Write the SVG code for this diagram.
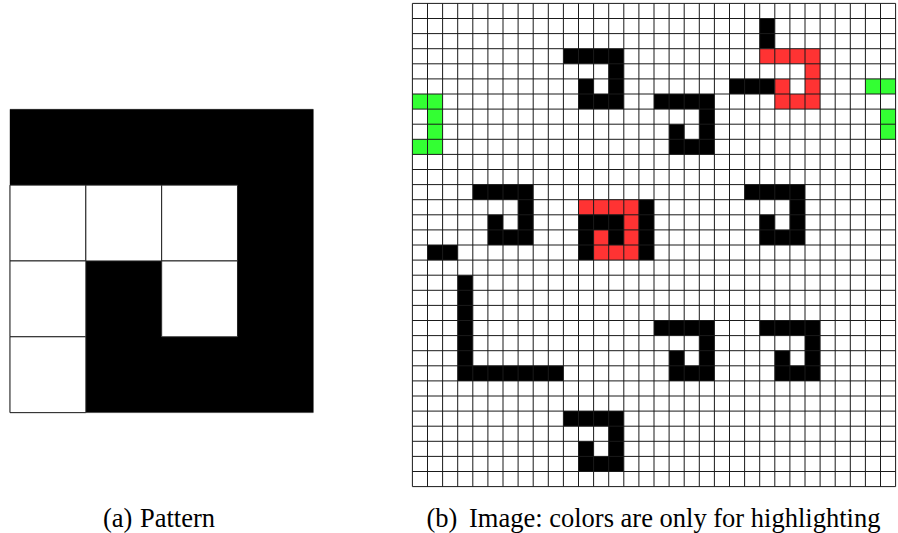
<svg xmlns="http://www.w3.org/2000/svg" xmlns:xlink="http://www.w3.org/1999/xlink" width="898" height="533" viewBox="0 0 898 533">
<style>
.blk{fill:#000}
.red{fill:#ff3333}
.grn{fill:#33ff33}
.grid{fill:none;stroke:#1a1a1a;stroke-width:1}
.cellb{fill:#fff;stroke:#222;stroke-width:1}
text{font-family:'Liberation Serif','Times New Roman',serif;font-size:26.5px;fill:#000}
</style>
<defs>
<path id="pat" d="M0 0H4V4H1V2H2V3H3V1H0Z"/>
</defs>
<rect width="898" height="533" fill="#fff"/>
<g id="pattern" transform="translate(10,109.3) scale(75.83)">
<rect x="0" y="0" width="4" height="4" fill="none" stroke="#999" stroke-width="1" vector-effect="non-scaling-stroke"/>
<use xlink:href="#pat" href="#pat" class="blk"/>
<rect class="cellb" x="0" y="1" width="1" height="1" vector-effect="non-scaling-stroke"/>
<rect class="cellb" x="1" y="1" width="1" height="1" vector-effect="non-scaling-stroke"/>
<rect class="cellb" x="2" y="1" width="1" height="1" vector-effect="non-scaling-stroke"/>
<rect class="cellb" x="0" y="2" width="1" height="1" vector-effect="non-scaling-stroke"/>
<rect class="cellb" x="2" y="2" width="1" height="1" vector-effect="non-scaling-stroke"/>
<rect class="cellb" x="0" y="3" width="1" height="1" vector-effect="non-scaling-stroke"/>
</g>
<g id="image" transform="translate(412.4,3.4) scale(15.1)">
<g id="black-cells" class="blk">
<use xlink:href="#pat" href="#pat" x="10" y="3"/>
<use xlink:href="#pat" href="#pat" x="16" y="6"/>
<use xlink:href="#pat" href="#pat" x="4" y="12"/>
<use xlink:href="#pat" href="#pat" x="22" y="12"/>
<use xlink:href="#pat" href="#pat" x="16" y="21"/>
<use xlink:href="#pat" href="#pat" x="23" y="21"/>
<use xlink:href="#pat" href="#pat" x="10" y="27"/>
<rect x="23" y="1" width="1" height="2"/>
<rect x="21" y="5" width="3" height="1"/>
<rect x="11" y="13" width="5" height="4"/>
<rect x="1" y="16" width="2" height="1"/>
<path d="M3 18H4V24H10V25H3Z"/>
</g>
<g id="red-cells" class="red">
<use xlink:href="#pat" href="#pat" x="23" y="3"/>
<use xlink:href="#pat" href="#pat" x="11" y="13"/>
</g>
<g id="green-cells" class="grn">
<rect x="30" y="5" width="2" height="1"/>
<rect x="31" y="7" width="1" height="2"/>
<path d="M0 6H2V10H0V9H1V7H0Z"/>
</g>
<path class="grid" vector-effect="non-scaling-stroke" d="M0 0V32M1 0V32M2 0V32M3 0V32M4 0V32M5 0V32M6 0V32M7 0V32M8 0V32M9 0V32M10 0V32M11 0V32M12 0V32M13 0V32M14 0V32M15 0V32M16 0V32M17 0V32M18 0V32M19 0V32M20 0V32M21 0V32M22 0V32M23 0V32M24 0V32M25 0V32M26 0V32M27 0V32M28 0V32M29 0V32M30 0V32M31 0V32M32 0V32M0 0H32M0 1H32M0 2H32M0 3H32M0 4H32M0 5H32M0 6H32M0 7H32M0 8H32M0 9H32M0 10H32M0 11H32M0 12H32M0 13H32M0 14H32M0 15H32M0 16H32M0 17H32M0 18H32M0 19H32M0 20H32M0 21H32M0 22H32M0 23H32M0 24H32M0 25H32M0 26H32M0 27H32M0 28H32M0 29H32M0 30H32M0 31H32M0 32H32"/>
</g>
<g id="captions" font-family="'Liberation Serif', 'Times New Roman', serif" font-size="26.5">
<text x="103" y="526.5">(a)</text>
<text x="140" y="526.5">Pattern</text>
<text x="426.5" y="526.5">(b)</text>
<text x="469" y="526.5">Image: colors are only for highlighting</text>
</g>
</svg>
